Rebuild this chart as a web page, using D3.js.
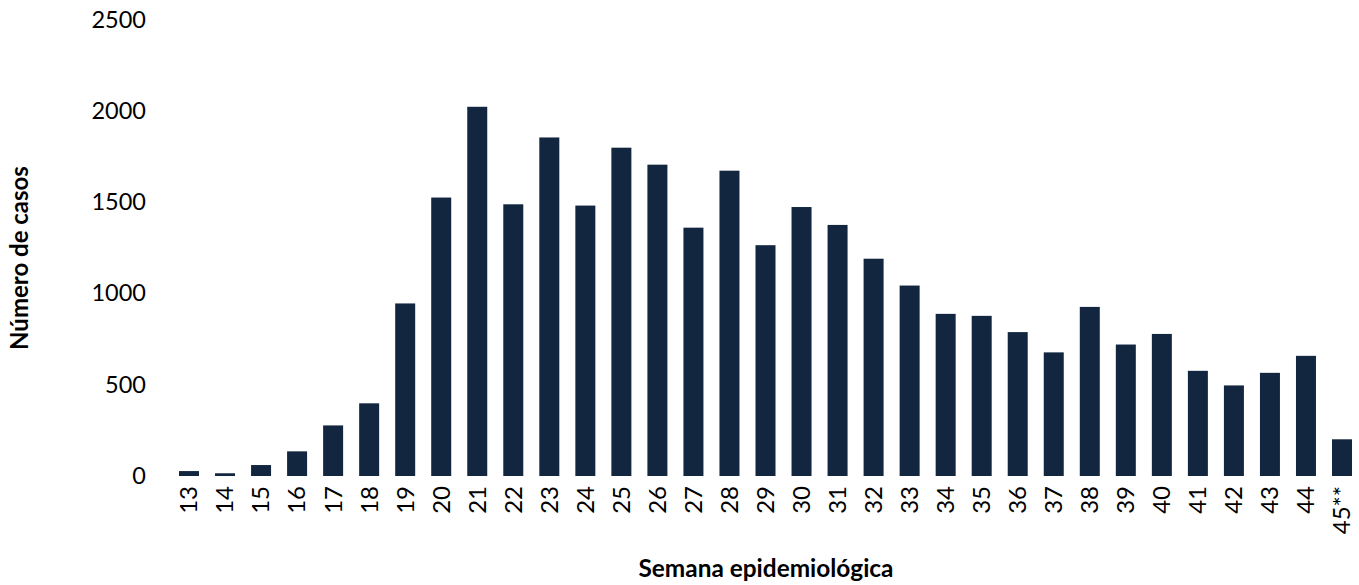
<!DOCTYPE html>
<html><head><meta charset="utf-8">
<script src="https://cdn.jsdelivr.net/npm/d3@7"></script>
<style>body{margin:0;background:#fff}svg{display:block}</style>
</head><body>
<script>
const weeks = ["13","14","15","16","17","18","19","20","21","22","23","24","25","26","27","28","29","30","31","32","33","34","35","36","37","38","39","40","41","42","43","44","45**"];
const cases = [27,15,60,135,277,398,945,1525,2022,1488,1854,1481,1798,1705,1360,1672,1264,1473,1375,1190,1043,888,877,788,677,926,720,778,576,496,565,658,201];
const yTicks = [0,500,1000,1500,2000,2500];

const W = 1359, H = 585;
const svg = d3.select("body").append("svg").attr("width", W).attr("height", H);
const font = "Lato, 'Open Sans', sans-serif";

const x = d3.scaleBand().domain(weeks).range([171, 1360]).paddingInner(0.445).paddingOuter(0.222);
const y = d3.scaleLinear().domain([0, 2500]).range([476, 19.5]);

svg.append("g").selectAll("rect").data(cases).join("rect")
  .attr("x", (d, i) => x(weeks[i]))
  .attr("width", x.bandwidth())
  .attr("y", d => y(d))
  .attr("height", d => y(0) - y(d))
  .attr("fill", "#12263F");

const ya = svg.append("g").attr("transform", "translate(146,0)")
  .call(d3.axisLeft(y).tickValues(yTicks).tickFormat(d3.format("d")).tickSize(0).tickPadding(0));
ya.select(".domain").remove();
ya.selectAll("text").attr("font-family", font).attr("font-size", 23.5).attr("fill", "#000");

const xa = svg.append("g").attr("transform", "translate(0,486)")
  .call(d3.axisBottom(x).tickSize(0).tickPadding(0));
xa.select(".domain").remove();
xa.selectAll(".tick text").attr("font-family", font).attr("font-size", 24).attr("fill", "#000")
  .attr("transform", "rotate(-90)").attr("text-anchor", "end").attr("dy", "0.35em").attr("x", 0).attr("y", 0);

svg.append("text").attr("x", 766).attr("y", 577).attr("text-anchor", "middle")
  .attr("font-family", font).attr("font-weight", "bold").attr("font-size", 24.4).attr("fill", "#000")
  .text("Semana epidemiológica");

svg.append("text").attr("transform", "translate(28,258) rotate(-90)").attr("text-anchor", "middle")
  .attr("font-family", font).attr("font-weight", "bold").attr("font-size", 24).attr("fill", "#000")
  .text("Número de casos");
</script>
</body></html>
